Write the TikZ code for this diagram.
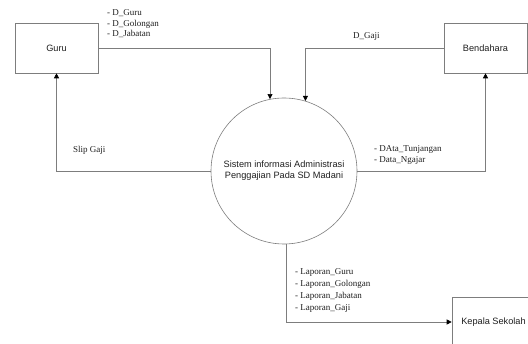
\documentclass[tikz,border=0pt]{standalone}
\usepackage{fontspec}
\setmainfont{Liberation Serif}
\newfontfamily\boxfont{Liberation Sans}
\usetikzlibrary{arrows.meta}
\definecolor{linegray}{RGB}{125,125,125}
\definecolor{txt}{RGB}{30,30,30}
\tikzset{
  entity/.style={draw=linegray, line width=0.6pt, minimum width=83pt, minimum height=50pt, inner sep=0pt, font=\boxfont\fontsize{9.2}{11}\selectfont, text=txt},
  proc/.style={draw=linegray, line width=0.6pt, circle, minimum size=146pt, inner sep=0pt, align=center, font=\boxfont\fontsize{9.2}{11}\selectfont, text=txt},
  flow/.style={draw=linegray, line width=0.6pt, -{Triangle[width=5pt,length=5pt,color=black]}},
  lbl/.style={inner sep=0pt, anchor=west, align=left, text=txt},
}
\begin{document}
\begin{tikzpicture}[x=1pt,y=-1pt]
\useasboundingbox (0,0) rectangle (528,344);
\begin{scope}
\clip (0,0) rectangle (528,344);
\node[entity] (guru) at (56.5,48) {Guru};
\node[entity] (bend) at (485.5,48) {Bendahara};
\node[entity] (kep) at (493.5,322) {Kepala Sekolah};
\end{scope}
\node[proc] (circ) at (284,171) {Sistem informasi Administrasi\\Penggajian Pada SD Madani};

\draw[flow] (guru.east) -| (circ.101);
\draw[flow] (bend.west) -| (circ.73);
\draw[flow] (circ.west) -| (guru.south);
\draw[flow] (circ.east) -| (bend.south);
\draw[flow] (circ.272) |- (kep.west);

\node[lbl, font=\fontsize{9}{10.5}\selectfont] (l1) at (107,24) {- D\_Guru\\- D\_Golongan\\- D\_Jabatan};
\node[lbl, font=\fontsize{9}{10.5}\selectfont] (l2) at (353,36) {D\_Gaji};
\node[lbl, font=\fontsize{9}{10.5}\selectfont] (l3) at (73,150) {Slip Gaji};
\node[lbl, font=\fontsize{9}{11}\selectfont] (l4) at (374,154.5) {- DAta\_Tunjangan\\- Data\_Ngajar};
\node[lbl, font=\fontsize{9}{11.7}\selectfont] (l5) at (295,290.5) {- Laporan\_Guru\\- Laporan\_Golongan\\- Laporan\_Jabatan\\- Laporan\_Gaji};
\end{tikzpicture}
\end{document}
